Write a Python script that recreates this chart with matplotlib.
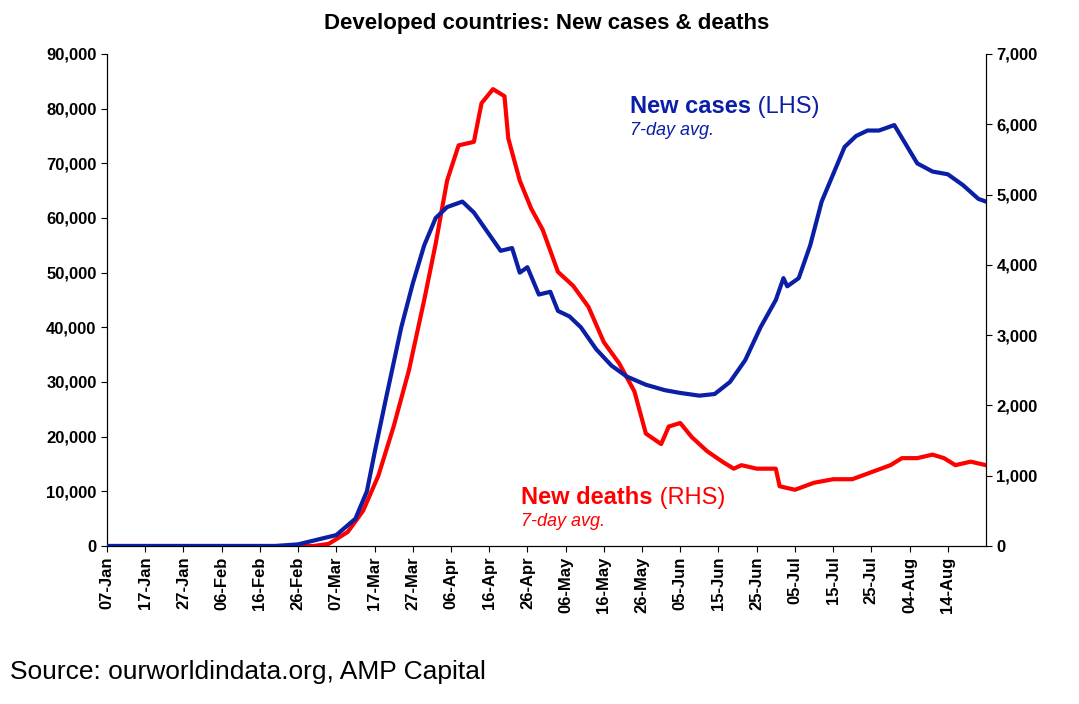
import numpy as np
import pandas as pd
import matplotlib
matplotlib.use("Agg")
import matplotlib.pyplot as plt
import matplotlib.dates as mdates
from matplotlib.ticker import FuncFormatter
from matplotlib.transforms import offset_copy

plt.rcParams['font.family'] = ['Liberation Sans', 'DejaVu Sans']

# ---- data ----
case_dates = ["2020-01-07", "2020-02-20", "2020-02-26", "2020-03-07", "2020-03-12", "2020-03-15",
              "2020-03-17", "2020-03-20", "2020-03-24", "2020-03-27", "2020-03-30", "2020-04-02",
              "2020-04-05", "2020-04-09", "2020-04-12", "2020-04-16", "2020-04-19", "2020-04-22",
              "2020-04-24", "2020-04-26", "2020-04-29", "2020-05-02", "2020-05-04", "2020-05-07",
              "2020-05-10", "2020-05-14", "2020-05-18", "2020-05-22", "2020-05-27", "2020-06-01",
              "2020-06-05", "2020-06-10", "2020-06-14", "2020-06-18", "2020-06-22", "2020-06-26",
              "2020-06-30", "2020-07-02", "2020-07-03", "2020-07-06", "2020-07-09", "2020-07-12",
              "2020-07-15", "2020-07-18", "2020-07-21", "2020-07-24", "2020-07-27", "2020-07-31",
              "2020-08-03", "2020-08-06", "2020-08-10", "2020-08-14", "2020-08-18", "2020-08-22",
              "2020-08-24"]
cases = [0, 0, 300, 2000, 5000, 10000, 17000, 27000, 40000, 48000, 55000, 60000,
         62000, 63000, 61000, 57000, 54000, 54500, 50000, 51000, 46000, 46500, 43000, 42000,
         40000, 36000, 33000, 31000, 29500, 28500, 28000, 27500, 27800, 30000, 34000, 40000,
         45000, 49000, 47500, 49000, 55000, 63000, 68000, 73000, 75000, 76000, 76000, 77000,
         73500, 70000, 68500, 68000, 66000, 63500, 63000]

death_dates = ["2020-01-07", "2020-03-01", "2020-03-05", "2020-03-10", "2020-03-14", "2020-03-18",
               "2020-03-22", "2020-03-26", "2020-03-30", "2020-04-02", "2020-04-05", "2020-04-08",
               "2020-04-12", "2020-04-14", "2020-04-17", "2020-04-20", "2020-04-21", "2020-04-24",
               "2020-04-27", "2020-04-30", "2020-05-04", "2020-05-08", "2020-05-12", "2020-05-16",
               "2020-05-20", "2020-05-24", "2020-05-27", "2020-05-31", "2020-06-02", "2020-06-05",
               "2020-06-08", "2020-06-12", "2020-06-16", "2020-06-19", "2020-06-21", "2020-06-25",
               "2020-06-30", "2020-07-01", "2020-07-05", "2020-07-10", "2020-07-15", "2020-07-20",
               "2020-07-25", "2020-07-30", "2020-08-02", "2020-08-06", "2020-08-10", "2020-08-13",
               "2020-08-16", "2020-08-20", "2020-08-24"]
deaths = [0, 0, 30, 200, 500, 1000, 1700, 2500, 3500, 4300, 5200, 5700,
          5750, 6300, 6500, 6400, 5800, 5200, 4800, 4500, 3900, 3700, 3400, 2900,
          2600, 2200, 1600, 1450, 1700, 1750, 1550, 1350, 1200, 1100, 1150, 1100,
          1100, 850, 800, 900, 950, 950, 1050, 1150, 1250, 1250, 1300, 1250,
          1150, 1200, 1150]

case_dates = pd.to_datetime(case_dates)
death_dates = pd.to_datetime(death_dates)

BLUE = '#0A1FA6'
RED = '#FF0000'

# ---- plot ----
fig = plt.figure(figsize=(10.79, 7.04), dpi=100)
ax = fig.add_axes([107/1079, 1-546/704, (986-107)/1079, (546-54)/704])
ax2 = ax.twinx()

ax.plot(case_dates, cases, color=BLUE, lw=3, zorder=3)
ax2.plot(death_dates, deaths, color=RED, lw=3)
ax.set_zorder(ax2.get_zorder() + 1)
ax.patch.set_visible(False)

ax.set_ylim(0, 90000)
ax2.set_ylim(0, 7000)
ax.set_yticks(np.arange(0, 90001, 10000))
ax2.set_yticks(np.arange(0, 7001, 1000))
fmt = FuncFormatter(lambda v, p: f"{int(v):,}")
ax.yaxis.set_major_formatter(fmt)
ax2.yaxis.set_major_formatter(fmt)

ax.set_xlim(pd.Timestamp("2020-01-07"), pd.Timestamp("2020-08-24"))
ticks = pd.date_range("2020-01-07", "2020-08-14", freq="10D")
ax.set_xticks(ticks)
ax.xaxis.set_major_formatter(mdates.DateFormatter("%d-%b"))

for a in (ax, ax2):
    for lab in a.get_xticklabels() + a.get_yticklabels():
        lab.set_fontweight('bold')
        lab.set_fontsize(12)
    a.tick_params(direction='out', length=4)
    a.spines['top'].set_visible(False)
plt.setp(ax.get_xticklabels(), rotation=90)

ax.set_title("Developed countries: New cases & deaths", fontsize=16, fontweight='bold', pad=18)

renderer = fig.canvas.get_renderer()

def label(x, y, bold_txt, plain_txt, sub_txt, color):
    t = ax.text(x, y, bold_txt, transform=ax.transAxes, color=color,
                fontsize=17, fontweight='bold')
    w = t.get_window_extent(renderer).width
    ax.text(x, y, " " + plain_txt, color=color, fontsize=17,
            transform=offset_copy(ax.transAxes, fig=fig, x=w, y=0, units='dots'))
    ax.text(x, y - 0.045, sub_txt, transform=ax.transAxes, color=color,
            fontsize=13, style='italic')

label(0.595, 0.88, "New cases", "(LHS)", "7-day avg.", BLUE)
label(0.471, 0.085, "New deaths", "(RHS)", "7-day avg.", RED)

fig.text(10/1079, 1-672/704, "Source: ourworldindata.org, AMP Capital", fontsize=19, va='center')

fig.savefig("out.png", dpi=100)
